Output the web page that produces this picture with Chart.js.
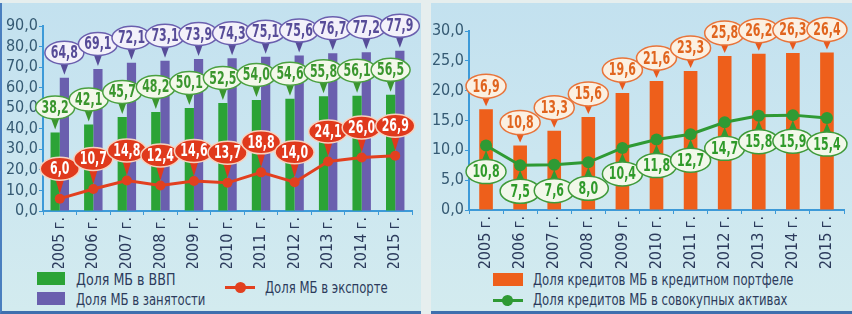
<!DOCTYPE html>
<html><head><meta charset="utf-8">
<script src="https://cdn.jsdelivr.net/npm/chart.js@4.4.1/dist/chart.umd.min.js"></script>
<style>
html,body{margin:0;padding:0;width:852px;height:314px;overflow:hidden;background:#e6eeee;}
.panel{position:absolute;top:3px;height:308px;background:linear-gradient(180deg,#c3e1ef 0%,#cbe6f0 50%,#d3ebef 100%);border-bottom:3px solid #3f6fae;}
#pl{left:0;width:419px;border-left:2px solid #4a7fbf;}
#pr{left:431px;width:421px;}
.box{position:absolute;}
.leg{position:absolute;font-family:"DejaVu Sans Condensed",sans-serif;font-size:16px;color:#2c3b5c;white-space:nowrap;line-height:16px;transform:scaleX(0.81);transform-origin:0 50%;}
.sw{position:absolute;}
</style></head>
<body>
<div class="panel" id="pl"></div>
<div class="panel" id="pr"></div>
<div class="box" style="left:0;top:0;width:420px;height:268px"><canvas id="c1"></canvas></div>
<div class="box" style="left:430px;top:0;width:422px;height:268px"><canvas id="c2"></canvas></div>

<div class="sw" style="left:37px;top:272px;width:28px;height:13px;background:#2ba336"></div>
<div class="leg" style="left:76px;top:272px;transform:scaleX(0.88)">Доля МБ в ВВП</div>
<div class="sw" style="left:37px;top:292px;width:28px;height:13px;background:#6a5fae"></div>
<div class="leg" style="left:76px;top:292px">Доля МБ в занятости</div>
<div class="sw" style="left:225px;top:286px;width:30px;height:3px;background:#e2401f"></div>
<div class="sw" style="left:235px;top:282px;width:11px;height:11px;border-radius:50%;background:#e2401f"></div>
<div class="leg" style="left:265px;top:280px">Доля МБ в экспорте</div>

<div class="sw" style="left:493px;top:273px;width:30px;height:13px;background:#ee5f1b"></div>
<div class="leg" style="left:533px;top:272px">Доля кредитов МБ в кредитном портфеле</div>
<div class="sw" style="left:493px;top:299px;width:30px;height:3px;background:#2f9a34"></div>
<div class="sw" style="left:502px;top:295px;width:11px;height:11px;border-radius:50%;background:#2f9a34"></div>
<div class="leg" style="left:533px;top:292px">Доля кредитов МБ в совокупных активах</div>

<script>
const years = ["2005 г.","2006 г.","2007 г.","2008 г.","2009 г.","2010 г.","2011 г.","2012 г.","2013 г.","2014 г.","2015 г."];
const gdpShare = [38.2,42.1,45.7,48.2,50.1,52.5,54.0,54.6,55.8,56.1,56.5];
const employmentShare = [64.8,69.1,72.1,73.1,73.9,74.3,75.1,75.6,76.7,77.2,77.9];
const exportShare = [6.0,10.7,14.8,12.4,14.6,13.7,18.8,14.0,24.1,26.0,26.9];
const loanPortfolioShare = [16.9,10.8,13.3,15.6,19.6,21.6,23.3,25.8,26.2,26.3,26.4];
const assetsShare = [10.8,7.5,7.6,8.0,10.4,11.8,12.7,14.7,15.8,15.9,15.4];
const leftTicks = [0,10,20,30,40,50,60,70,80,90];
const rightTicks = [0,5,10,15,20,25,30];

const FONT = '"DejaVu Sans Condensed",sans-serif';
const fmt = v => Number(v).toFixed(1).replace('.', ',');

const bubblePlugin = {
  id:'bubbles',
  afterDatasetsDraw(chart){
    const ctx = chart.ctx;
    chart.data.datasets.forEach((ds,i)=>{
      const b = ds.bubble; if(!b) return;
      const meta = chart.getDatasetMeta(i);
      meta.data.forEach((el,j)=>{
        const x = el.x, y = el.y;
        const cy = b.dir==='down' ? y - b.off : y + b.off;
        ctx.save();
        ctx.fillStyle = b.ptr;
        ctx.beginPath();
        if(b.dir==='down'){
          ctx.moveTo(x-5, cy + b.h/2 - 3); ctx.lineTo(x+5, cy + b.h/2 - 3); ctx.lineTo(x, y - b.gap);
        } else {
          ctx.moveTo(x-5, cy - b.h/2 + 3); ctx.lineTo(x+5, cy - b.h/2 + 3); ctx.lineTo(x, y + b.gap);
        }
        ctx.closePath(); ctx.fill();
        ctx.beginPath();
        ctx.ellipse(x, cy, b.w/2, b.h/2, 0, 0, Math.PI*2);
        ctx.fillStyle = b.fill; ctx.fill();
        ctx.lineWidth = 1.5; ctx.strokeStyle = b.stroke; ctx.stroke();
        ctx.fillStyle = b.text;
        ctx.font = 'bold 17px ' + FONT;
        ctx.textAlign='center'; ctx.textBaseline='middle';
        ctx.translate(x, cy+1); ctx.scale(0.72,1);
        ctx.fillText(fmt(ds.data[j]), 0, 0);
        ctx.restore();
      });
    });
  }
};

function scales(max, ticksArr, yW, xH){
  return {
    x:{
      grid:{display:true,drawOnChartArea:false,drawTicks:true,tickLength:4,color:'#3d9ad8',offset:true},
      border:{display:true,color:'#3d9ad8',width:2},
      ticks:{maxRotation:90,minRotation:90,color:'#2c3b5c',font:{family:FONT,size:16},padding:2,autoSkip:false},
      afterFit(s){ s.height = xH; }
    },
    y:{
      min:0,max:max,
      afterBuildTicks(s){ s.ticks = ticksArr.map(v=>({value:v})); },
      grid:{display:true,drawOnChartArea:false,drawTicks:true,tickLength:4,color:'#3d9ad8'},
      border:{display:true,color:'#3d9ad8',width:2},
      ticks:{color:'#355a73',font:{family:FONT,size:16},padding:1,autoSkip:false,callback:v=>fmt(v)},
      afterFit(s){ s.width = yW; }
    }
  };
}

new Chart(document.getElementById('c1'),{
  data:{labels:years,datasets:[
    {type:'line',label:'Доля МБ в экспорте',data:exportShare,borderColor:'#e2401f',backgroundColor:'#e2401f',borderWidth:3,pointRadius:5,pointBackgroundColor:'#e2401f',pointBorderWidth:0,order:0,
     bubble:{dir:'down',off:30,w:39,h:23,fill:'#e0391c',stroke:'#f6d2bf',text:'#ffffff',ptr:'#e0391c',gap:5}},
    {type:'bar',label:'Доля МБ в ВВП',data:gdpShare,backgroundColor:'#2ba336',categoryPercentage:0.55,barPercentage:1,order:1,
     bubble:{dir:'down',off:25,w:39,h:23,fill:'#f3f8ea',stroke:'#4aa040',text:'#3a962e',ptr:'#3a962e',gap:3}},
    {type:'bar',label:'Доля МБ в занятости',data:employmentShare,backgroundColor:'#6a5fae',categoryPercentage:0.55,barPercentage:1,order:1,
     bubble:{dir:'down',off:25,w:39,h:23,fill:'#f3f1fa',stroke:'#6a5fae',text:'#574c98',ptr:'#574c98',gap:3}}
  ]},
  options:{responsive:true,maintainAspectRatio:false,animation:false,
    layout:{padding:{top:26,right:8,left:0,bottom:0}},
    plugins:{legend:{display:false},tooltip:{enabled:false}},
    scales:scales(90,leftTicks,43,57)
  },
  plugins:[bubblePlugin]
});

new Chart(document.getElementById('c2'),{
  data:{labels:years,datasets:[
    {type:'bar',label:'Доля кредитов МБ в кредитном портфеле',data:loanPortfolioShare,backgroundColor:'#ee5f1b',categoryPercentage:1,barPercentage:0.4,order:1,
     bubble:{dir:'down',off:23,w:40,h:24,fill:'#fbf0e2',stroke:'#e8743a',text:'#e0641e',ptr:'#e8581c',gap:3}},
    {type:'line',label:'Доля кредитов МБ в совокупных активах',data:assetsShare,borderColor:'#2f9a34',backgroundColor:'#2f9a34',borderWidth:3,pointRadius:6,pointBackgroundColor:'#2f9a34',pointBorderWidth:0,order:0,
     bubble:{dir:'up',off:26,w:40,h:24,fill:'#f2f8ea',stroke:'#3f9a3a',text:'#2f9a2a',ptr:'#2f9a34',gap:5}}
  ]},
  options:{responsive:true,maintainAspectRatio:false,animation:false,
    layout:{padding:{top:31,right:8,left:0,bottom:0}},
    plugins:{legend:{display:false},tooltip:{enabled:false}},
    scales:scales(30,rightTicks,39,58)
  },
  plugins:[bubblePlugin]
});
</script>
</body></html>
